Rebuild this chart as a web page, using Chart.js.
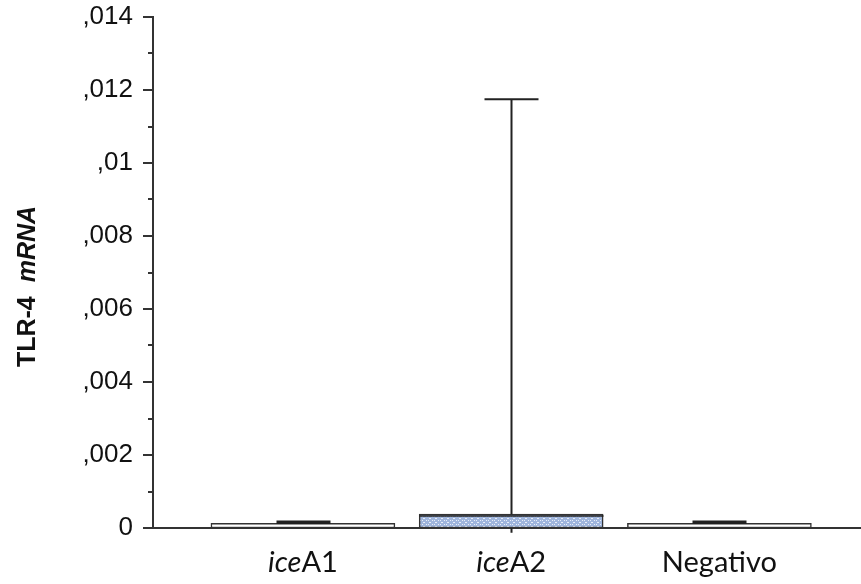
<!DOCTYPE html>
<html>
<head>
<meta charset="utf-8">
<script src="https://cdn.jsdelivr.net/npm/chart.js@4/dist/chart.umd.min.js"></script>
<style>
  html, body { margin: 0; padding: 0; background: #fff; }
  #wrap { width: 861px; height: 584px; }
</style>
</head>
<body>
<div id="wrap"><canvas id="c" width="861" height="584"></canvas></div>
<script>
// ---- data ----
const categories = ['iceA1', 'iceA2', 'Negativo'];
const labelItalic = ['ice', 'ice', ''];
const labelNormal = ['A1', 'A2', 'Negativo'];
const xPositions = [1, 2, 3];
const q1 = [0, 0, 0];
const median = [0.00005, 0.00033, 0.00005];
const q3 = [0.00013, 0.00038, 0.00013];
const whiskerLow = [0, -0.00013, 0];
const whiskerHigh = [0.00016, 0.01175, 0.00016];
const yMajorTicks = [0, 0.002, 0.004, 0.006, 0.008, 0.01, 0.012, 0.014];
const yMinorStep = 0.001;
const yTitleBold = 'TLR-4';
const yTitleItalic = 'mRNA';

// ---- fill pattern for iceA2 ----
function makePattern() {
  const p = document.createElement('canvas');
  p.width = 6; p.height = 4;
  const g = p.getContext('2d');
  g.fillStyle = '#9fb5dc';
  g.fillRect(0, 0, 6, 4);
  g.fillStyle = '#e8eef8';
  g.fillRect(0, 0, 1, 1);
  g.fillRect(3, 2, 2, 1);
  g.fillRect(2, 0, 1, 1);
  return g.createPattern(p, 'repeat');
}
const ctx0 = document.getElementById('c').getContext('2d');
const pattern = makePattern();

const boxData = xPositions.map((x, i) => ({ x: x, y: [q1[i], q3[i]] }));

const boxPlugin = {
  id: 'boxExtras',
  afterDatasetsDraw(chart) {
    const { ctx, scales: { x, y } } = chart;
    ctx.save();
    ctx.strokeStyle = '#222';
    ctx.lineCap = 'butt';
    const capHalf = 27;
    for (let i = 0; i < xPositions.length; i++) {
      const cx = Math.round(x.getPixelForValue(xPositions[i])) + 0.5;
      const yq3 = y.getPixelForValue(q3[i]);
      const yq1 = y.getPixelForValue(q1[i]);
      const yHi = y.getPixelForValue(whiskerHigh[i]);
      const yLo = y.getPixelForValue(whiskerLow[i]);
      const yMed = y.getPixelForValue(median[i]);
      ctx.lineWidth = 2;
      ctx.beginPath();
      ctx.moveTo(cx, yq3); ctx.lineTo(cx, yHi);
      ctx.moveTo(cx, yq1); ctx.lineTo(cx, yLo);
      ctx.stroke();
      ctx.lineWidth = (yq3 - yHi) < 6 ? 3.5 : 2;
      ctx.beginPath();
      ctx.moveTo(cx - capHalf, yHi); ctx.lineTo(cx + capHalf, yHi);
      ctx.stroke();
      if (yq1 - yq3 > 8) {
        const meta = chart.getDatasetMeta(0).data[i];
        const half = meta.width / 2;
        ctx.lineWidth = 1.5;
        ctx.beginPath();
        ctx.moveTo(cx - half, yMed); ctx.lineTo(cx + half, yMed);
        ctx.stroke();
      }
    }
    ctx.restore();
  },
  afterDraw(chart) {
    const { ctx, scales: { x, y }, chartArea } = chart;
    ctx.save();
    ctx.strokeStyle = '#333';
    ctx.lineWidth = 2;
    const ax = chartArea.left;
    const maxV = yMajorTicks[yMajorTicks.length - 1];
    for (let k = 0; k * yMinorStep <= maxV + 1e-9; k++) {
      const v = k * yMinorStep;
      const py = Math.round(y.getPixelForValue(v));
      const major = k % 2 === 0;
      ctx.beginPath();
      ctx.moveTo(ax - (major ? 10 : 5), py);
      ctx.lineTo(ax, py);
      ctx.stroke();
    }
    ctx.fillStyle = '#111';
    ctx.textBaseline = 'alphabetic';
    const fs = 29;
    const fam = 'Lato, "Open Sans", sans-serif';
    for (let i = 0; i < categories.length; i++) {
      const cx = x.getPixelForValue(xPositions[i]);
      ctx.font = 'italic ' + fs + 'px ' + fam;
      const w1 = ctx.measureText(labelItalic[i]).width;
      ctx.font = fs + 'px ' + fam;
      const w2 = ctx.measureText(labelNormal[i]).width;
      let sx = cx - (w1 + w2) / 2;
      ctx.textAlign = 'left';
      ctx.font = 'italic ' + fs + 'px ' + fam;
      ctx.fillText(labelItalic[i], sx, 572);
      ctx.font = fs + 'px ' + fam;
      ctx.fillText(labelNormal[i], sx + w1, 572);
    }
    ctx.translate(35, (chartArea.top + chartArea.bottom) / 2 + 14);
    ctx.rotate(-Math.PI / 2);
    const tf = '"Liberation Sans", Arial, sans-serif';
    ctx.font = 'bold 25px ' + tf;
    const t1 = yTitleBold + '  ';
    const tw1 = ctx.measureText(t1).width;
    ctx.font = 'italic bold 25px ' + tf;
    const tw2 = ctx.measureText(yTitleItalic).width;
    const start = -(tw1 + tw2) / 2;
    ctx.textAlign = 'left';
    ctx.font = 'bold 25px ' + tf;
    ctx.fillText(t1, start, 0);
    ctx.font = 'italic bold 25px ' + tf;
    ctx.fillText(yTitleItalic, start + tw1, 0);
    ctx.restore();
  }
};

function fmtTick(v) {
  if (Math.abs(v) < 1e-12) return '0';
  let s = v.toFixed(3).replace(/0+$/, '');
  return s.replace(/^0\./, ',');
}

new Chart(ctx0, {
  type: 'bar',
  data: {
    datasets: [{
      data: boxData,
      backgroundColor: ['#ffffff', pattern, '#ffffff'],
      borderColor: '#333',
      borderWidth: 1.5,
      borderSkipped: false,
      barThickness: 184
    }]
  },
  plugins: [boxPlugin],
  options: {
    responsive: false,
    animation: false,
    events: [],
    layout: { padding: { top: 17, right: 0, left: 0, bottom: 0 } },
    plugins: { legend: { display: false }, tooltip: { enabled: false }, title: { display: false } },
    scales: {
      x: {
        type: 'linear',
        offset: false,
        min: 0.28,
        max: 3.68,
        grid: { display: false, drawTicks: false, offset: false },
        border: { display: true, color: '#333', width: 2 },
        ticks: { display: false },
        afterFit(scale) {
          scale.height = 56;
          scale.paddingLeft = 0; scale.paddingRight = 0;
        }
      },
      y: {
        min: 0,
        max: 0.014,
        afterBuildTicks(scale) { scale.ticks = yMajorTicks.map(v => ({ value: v })); },
        grid: { display: false, drawTicks: false },
        border: { display: true, color: '#333', width: 2 },
        ticks: {
          padding: 20,
          color: '#111',
          font: { family: '"Liberation Sans", Arial, sans-serif', size: 26 },
          callback: (v) => fmtTick(v)
        },
        afterFit(scale) {
          scale.width = 153;
          scale.paddingTop = 0; scale.paddingBottom = 0;
        }
      }
    }
  }
});
</script>
</body>
</html>
